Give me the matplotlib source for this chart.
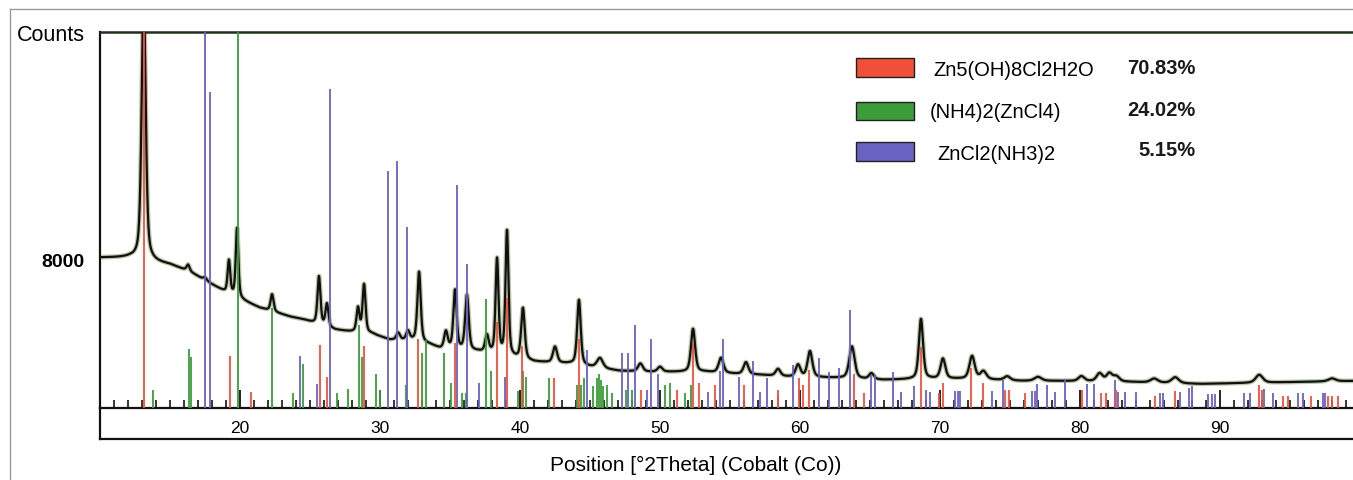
import numpy as np
import matplotlib
matplotlib.use("Agg")
import matplotlib.pyplot as plt
from matplotlib.lines import Line2D
from matplotlib.patches import Rectangle
from matplotlib.ticker import MultipleLocator

plt.rcParams['font.family'] = ['Liberation Sans', 'DejaVu Sans']

W, H = 1353, 481
YMAX = 20270

# ---- measured pattern: background level (2theta, counts) ----
bg_pos = [10.0, 12.1, 13.6, 15.0, 16.4, 17.9, 18.9, 20.1, 21.4, 23.6, 24.6, 25.4,
          26.8, 27.9, 29.4, 30.7, 32.4, 33.6, 34.3, 37.0, 41.0, 43.6, 45.0, 47.1,
          49.3, 51.4, 53.2, 55.4, 57.1, 59.3, 62.5, 65.9, 69.3, 71.4, 74.0, 75.8,
          78.4, 83.6, 88.6, 95.7, 99.5]
bg_cnt = [8108, 8108, 7891, 7729, 7351, 6702, 6270, 5837, 5405, 4919, 4756, 4540,
          4216, 4108, 4000, 3675, 3621, 3405, 3189, 3027, 2486, 2378, 2216, 2000,
          1946, 1946, 1946, 1838, 1784, 1676, 1622, 1513, 1567, 1567, 1513, 1459,
          1459, 1405, 1297, 1405, 1459]

# ---- measured pattern: peaks (position, height above background, FWHM) ----
pk_pos = [13.12, 16.29, 17.5, 19.21, 19.79, 22.29, 25.64, 26.21, 28.43, 28.86,
          31.3, 32.0, 32.79, 34.71, 35.36, 36.21, 37.64, 38.36, 39.07, 40.21,
          42.5, 44.21, 45.71, 48.6, 50.0, 52.36, 54.36, 56.14, 58.43, 59.86,
          60.71, 63.71, 65.1, 68.64, 70.21, 72.29, 73.1, 74.8, 77.0, 80.1,
          81.4, 82.1, 82.6, 85.3, 86.8, 92.8, 98.0]
pk_amp = [14500, 330, 150, 1780, 3730, 920, 2600, 1240, 1300, 2600,
          380, 490, 3780, 920, 3190, 2970, 920, 5130, 6760, 2760,
          865, 3510, 540, 430, 270, 2320, 810, 650, 380, 650,
          1400, 1730, 320, 3240, 1080, 1240, 430, 215, 215, 270,
          430, 430, 270, 215, 320, 430, 160]
pk_fwhm = [0.34, 0.25, 0.30, 0.22, 0.22, 0.25, 0.25, 0.25, 0.25, 0.25,
           0.30, 0.30, 0.28, 0.30, 0.28, 0.30, 0.30, 0.25, 0.25, 0.30,
           0.35, 0.30, 0.50, 0.40, 0.40, 0.35, 0.40, 0.40, 0.40, 0.40,
           0.40, 0.45, 0.40, 0.35, 0.40, 0.45, 0.50, 0.50, 0.60, 0.50,
           0.50, 0.50, 0.50, 0.60, 0.60, 0.60, 0.60]

# ---- reference patterns (stick positions, intensities in counts) ----
red_pos = [13.12, 19.29, 20.79, 25.71, 26.21, 28.86, 32.71, 35.36, 38.36, 39.07,
           40.14, 42.43, 44.21, 48.64, 51.21, 52.36, 52.79, 53.93, 56.0, 58.43,
           59.93, 60.21, 60.64, 63.86, 64.57, 68.64, 69.93, 70.21, 72.21, 73.07,
           74.64, 74.93, 76.07, 80.14, 81.5, 81.86, 82.57, 85.36, 86.79, 92.79,
           93.0, 94.5, 94.86, 96.5, 97.71, 98.0, 98.43]
red_int = [20270, 2810, 865, 3405, 1675, 3350, 3730, 3510, 4650, 5945,
           3350, 1620, 3730, 975, 975, 3510, 1350, 1245, 1245, 975,
           1620, 1245, 2055, 1840, 810, 3300, 810, 1350, 2160, 1350,
           975, 975, 810, 975, 810, 810, 975, 650, 920, 1245,
           975, 650, 650, 650, 650, 650, 650]

green_pos = [13.79, 16.36, 16.5, 19.86, 22.29, 23.79, 24.5, 26.93, 27.71, 28.5,
             28.71, 29.71, 30.0, 31.86, 33.0, 33.29, 34.57, 35.07, 35.86, 36.14,
             37.57, 37.93, 39.86, 40.21, 40.43, 42.07, 44.07, 44.36, 44.57, 45.21,
             45.5, 45.64, 45.79, 45.93, 46.21, 46.57, 47.57, 48.0, 50.36, 50.71,
             51.79, 52.21]
green_int = [975, 3190, 2755, 20270, 5400, 810, 2380, 810, 1030, 4485,
             2755, 1840, 975, 1245, 2970, 3675, 2970, 1350, 810, 810,
             5890, 2000, 920, 2000, 1675, 1620, 1245, 1245, 1620, 1190,
             1620, 1840, 1515, 1190, 1245, 810, 975, 975, 1245, 1350,
             810, 1245]

blue_pos = [17.5, 17.86, 24.29, 25.5, 26.43, 30.57, 31.21, 31.93, 35.5, 36.21,
            37.07, 38.93, 44.79, 47.29, 47.71, 48.21, 49.07, 49.36, 49.86, 53.43,
            54.29, 54.5, 55.64, 56.64, 57.14, 57.64, 58.43, 59.5, 61.39, 62.07,
            62.79, 63.57, 65.07, 65.36, 66.64, 67.21, 68.14, 69.0, 69.29, 71.1,
            71.25, 71.4, 73.71, 74.5, 76.6, 76.8, 76.93, 77.64, 78.21, 78.93,
            80.5, 81.0, 82.5, 82.71, 83.21, 84.0, 85.71, 85.93, 87.14, 87.79,
            88.0, 89.14, 89.43, 89.64, 91.71, 92.14, 93.14, 93.79, 95.57, 95.93,
            97.36, 97.5]
blue_int = [20270, 17030, 2810, 1300, 17190, 12755, 13300, 9780, 12000, 7780,
            1350, 1675, 3135, 2970, 2970, 4485, 975, 3730, 1840, 865,
            2000, 3730, 1675, 2540, 865, 1620, 700, 2325, 2700, 1945,
            2160, 5300, 1785, 1785, 1945, 865, 1190, 975, 865, 920,
            920, 920, 920, 1515, 920, 920, 1300, 1245, 865, 1570,
            1300, 1300, 1515, 865, 865, 865, 810, 810, 865, 1080,
            1190, 755, 755, 755, 810, 810, 1030, 810, 810, 810,
            810, 810]

phases = ['Zn5(OH)8Cl2H2O', '(NH4)2(ZnCl4)', 'ZnCl2(NH3)2']
fractions = ['70.83%', '24.02%', '5.15%']

RED = '#f0503a'
GREEN = '#3c9c3c'
BLUE = '#6a62c2'


def pseudo_voigt(x, x0, fwhm, eta=0.5):
    d = (x - x0) / fwhm
    return eta / (1 + 4 * d ** 2) + (1 - eta) * np.exp(-4 * np.log(2) * d ** 2)


tt = np.linspace(10, 99.5, 6000)
counts = np.interp(tt, bg_pos, bg_cnt)
for p, a, w in zip(pk_pos, pk_amp, pk_fwhm):
    counts = counts + a * pseudo_voigt(tt, p, w)


def fx(px):
    return px / W


def fy(py):
    return 1 - py / H


fig = plt.figure(figsize=(W / 100, H / 100), dpi=100)
ax = fig.add_axes([fx(100), fy(409), fx(1353) - fx(100), fy(33) - fy(409)])

# measured profile with a soft halo
ax.plot(tt, counts, color='#b9c6a8', lw=3.4, zorder=2, solid_joinstyle='round')
ax.plot(tt, counts, color='#101010', lw=1.6, zorder=3)

# reference sticks
ax.vlines(green_pos, 0, green_int, colors=GREEN, lw=1.3, zorder=4)
ax.vlines(blue_pos, 0, blue_int, colors=BLUE, lw=1.3, zorder=4)
ax.vlines(red_pos, 0, red_int, colors=RED, lw=1.3, zorder=5)

ax.set_xlim(10, 99.5)
ax.set_ylim(0, YMAX)

ax.xaxis.set_major_locator(MultipleLocator(10))
ax.xaxis.set_minor_locator(MultipleLocator(1))
ax.set_xticks([20, 30, 40, 50, 60, 70, 80, 90])
ax.tick_params(axis='x', which='major', direction='in', length=13, width=1.2,
               pad=9, labelsize=12.5, colors='black')
ax.tick_params(axis='x', which='minor', direction='in', length=5.5, width=1.1)

ax.set_yticks([8000, YMAX])
ax.set_yticklabels(['8000', 'Counts'])
ax.tick_params(axis='y', length=0, pad=11)
ylabels = ax.get_yticklabels()
ylabels[0].set_fontsize(14)
ylabels[0].set_fontweight('bold')
ylabels[1].set_fontsize(15.5)

ax.spines['right'].set_visible(False)
ax.spines['left'].set_linewidth(1.6)
ax.spines['left'].set_color('#111111')
ax.spines['top'].set_linewidth(1.8)
ax.spines['top'].set_color('#1c301c')
ax.spines['bottom'].set_linewidth(1.6)
ax.spines['bottom'].set_color('#111111')

# box holding the tick labels
fig.add_artist(Line2D([fx(100), fx(100)], [fy(409), fy(440)], color='#111111', lw=1.6,
                      transform=fig.transFigure))
fig.add_artist(Line2D([fx(100), fx(1353)], [fy(440), fy(440)], color='#111111', lw=1.6,
                      transform=fig.transFigure))

# outer frame
fig.add_artist(Line2D([fx(10), fx(10)], [fy(10), fy(481)], color='#9a9a9a', lw=1.0,
                      transform=fig.transFigure))
fig.add_artist(Line2D([fx(10), fx(1353)], [fy(10), fy(10)], color='#9a9a9a', lw=1.0,
                      transform=fig.transFigure))

fig.text(fx(696), fy(465), 'Position [°2Theta] (Cobalt (Co))', ha='center', va='center',
         fontsize=15)

# phase legend
leg_rows = [(59, 78, 933, 70, 68), (103, 121, 930, 112, 110), (143, 162, 937, 154, 150)]
for (top, bot, tx, ty, py), name, frac, col in zip(leg_rows, phases, fractions,
                                                    [RED, GREEN, BLUE]):
    fig.add_artist(Rectangle((fx(856), fy(bot)), fx(914) - fx(856), fy(top) - fy(bot),
                             facecolor=col, edgecolor='#202020', lw=1.0,
                             transform=fig.transFigure))
    fig.text(fx(tx), fy(ty), name, ha='left', va='center', fontsize=14.5)
    fig.text(fx(1196), fy(py), frac, ha='right', va='center', fontsize=14.5,
             fontweight='bold', color='#1a1a1a')

fig.savefig('out.png', dpi=100)
